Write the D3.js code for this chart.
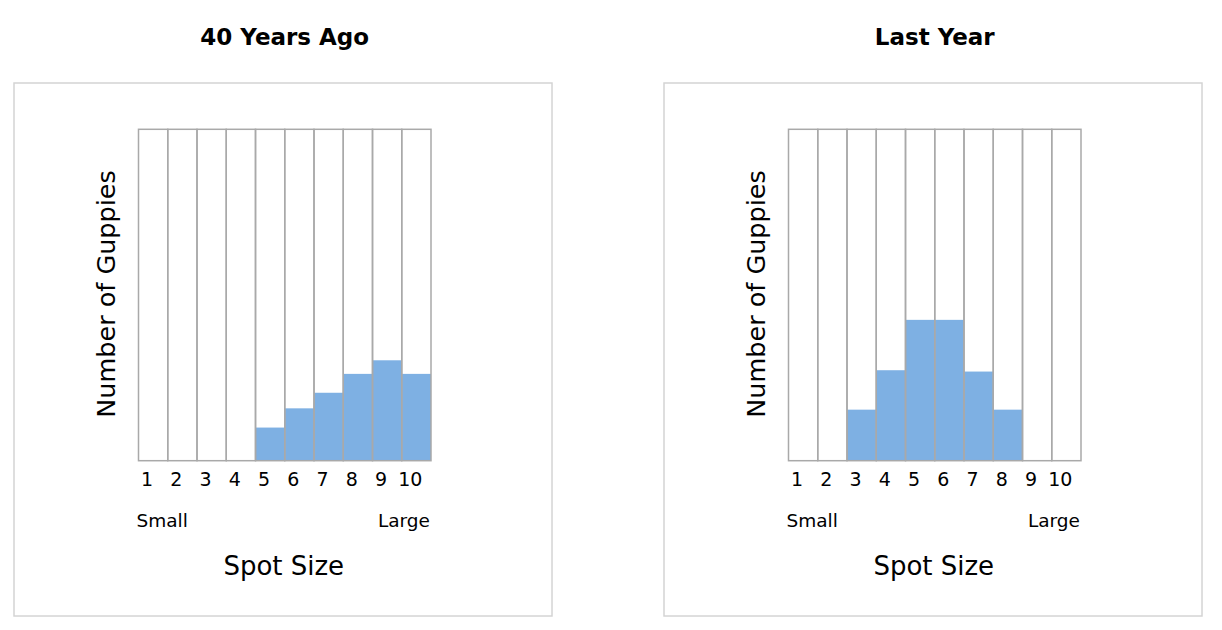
<!DOCTYPE html>
<html>
<head>
<meta charset="utf-8">
<script src="https://cdn.jsdelivr.net/npm/d3@7"></script>
<style>
  body { margin: 0; background: #fff; }
  svg { display: block; font-family: "DejaVu Sans", sans-serif; }
</style>
</head>
<body>
<svg id="chart" width="1222" height="630"></svg>
<script>
// data (arbitrary units, 0-100 = full column height)
const spotSizes = [1, 2, 3, 4, 5, 6, 7, 8, 9, 10];
const pastCounts = [0, 0, 0, 0, 10, 15.8, 20.5, 26.2, 30.3, 26.2];
const lastYearCounts = [0, 0, 15.4, 27.3, 42.5, 42.5, 26.9, 15.4, 0, 0];
const panelTitles = ["40 Years Ago", "Last Year"];
const xAxisTitle = "Spot Size";
const yAxisTitle = "Number of Guppies";
const endLabels = ["Small", "Large"];

const svg = d3.select("#chart");

const panels = [
  { title: panelTitles[0], values: pastCounts, x0: 14 },
  { title: panelTitles[1], values: lastYearCounts, x0: 664 }
];

const frameW = 538;
const frameTop = 83;
const frameBottom = 616;
const plot = { left: 124.5, width: 292.5, top: 129.3, bottom: 460.7 };

panels.forEach(function (p) {
  const g = svg.append("g").attr("transform", `translate(${p.x0},0)`);

  // frame
  g.append("rect")
    .attr("x", 0)
    .attr("y", frameTop)
    .attr("width", frameW)
    .attr("height", frameBottom - frameTop)
    .attr("fill", "none")
    .attr("stroke", "#d4d4d4")
    .attr("stroke-width", 1.5);

  const x = d3.scaleBand()
    .domain(spotSizes)
    .range([plot.left, plot.left + plot.width])
    .padding(0);

  const y = d3.scaleLinear()
    .domain([0, 100])
    .range([plot.bottom, plot.top]);

  // title
  g.append("text")
    .attr("x", plot.left + plot.width / 2)
    .attr("y", 45)
    .attr("text-anchor", "middle")
    .attr("font-size", 23)
    .attr("font-weight", "bold")
    .attr("fill", "#000")
    .text(p.title);

  // bars
  g.selectAll(".bar")
    .data(spotSizes)
    .enter()
    .append("rect")
    .attr("class", "bar")
    .attr("x", (d) => x(d))
    .attr("y", (d, i) => y(p.values[i]))
    .attr("width", x.bandwidth())
    .attr("height", (d, i) => y(0) - y(p.values[i]))
    .attr("fill", "#7eb0e3");

  // column outlines
  g.selectAll(".col")
    .data(spotSizes)
    .enter()
    .append("rect")
    .attr("class", "col")
    .attr("x", (d) => x(d))
    .attr("y", y(100))
    .attr("width", x.bandwidth())
    .attr("height", y(0) - y(100))
    .attr("fill", "none")
    .attr("stroke", "#a9a9a9")
    .attr("stroke-width", 1.5);

  // x axis numbers
  const axis = g.append("g")
    .attr("transform", `translate(0,${plot.bottom})`)
    .call(d3.axisBottom(x).tickSize(0).tickPadding(0));
  axis.select(".domain").remove();
  axis.selectAll("text")
    .attr("font-family", "DejaVu Sans, sans-serif")
    .attr("font-size", 19)
    .attr("fill", "#000")
    .attr("dy", 0)
    .attr("y", 25)
    .attr("dx", -6);

  // small / large
  g.append("text")
    .attr("x", plot.left - 2)
    .attr("y", 527)
    .attr("font-size", 18.5)
    .attr("fill", "#000")
    .text(endLabels[0]);
  g.append("text")
    .attr("x", plot.left + plot.width - 1)
    .attr("y", 527)
    .attr("text-anchor", "end")
    .attr("font-size", 18.5)
    .attr("fill", "#000")
    .text(endLabels[1]);

  // axis titles
  g.append("text")
    .attr("x", plot.left + plot.width / 2 - 1)
    .attr("y", 575)
    .attr("text-anchor", "middle")
    .attr("font-size", 26)
    .attr("fill", "#000")
    .text(xAxisTitle);

  g.append("text")
    .attr("transform", `translate(101,${(plot.top + plot.bottom) / 2 - 1}) rotate(-90)`)
    .attr("text-anchor", "middle")
    .attr("font-size", 25.5)
    .attr("fill", "#000")
    .text(yAxisTitle);
});
</script>
</body>
</html>
